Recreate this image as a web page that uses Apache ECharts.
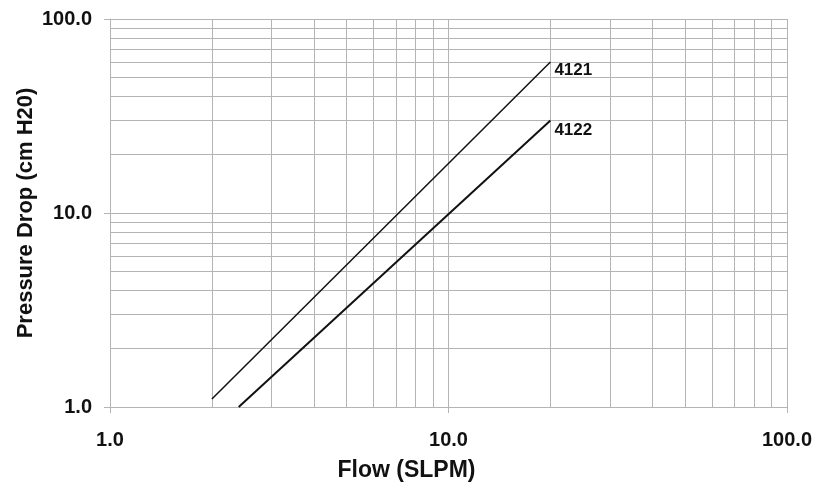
<!DOCTYPE html>
<html>
<head>
<meta charset="utf-8">
<script src="https://cdn.jsdelivr.net/npm/echarts@6/dist/echarts.min.js"></script>
<style>html,body{margin:0;padding:0;background:#fff;}#c{width:822px;height:489px;}</style>
</head>
<body>
<div id="c"></div>
<script>
// Data
var series4121 = [[2, 1.1], [20, 60]];
var series4122 = [[2.4, 1.0], [20, 30]];
var seriesNames = ['4121', '4122'];
var xGridValues = [2, 3, 4, 5, 6, 7, 8, 9, 10, 20, 30, 40, 50, 60, 70, 80, 90, 100];
var yGridValues = [2, 3, 4, 5, 6, 7, 8, 9, 10, 20, 30, 40, 50, 60, 70, 80, 90, 100];

var chart = echarts.init(document.getElementById('c'), null, {renderer: 'canvas'});
var gridColor = '#b4b4b4';
var font = 'Liberation Sans, Arial, sans-serif';
var gridLines = xGridValues.map(function (v) { return {xAxis: v}; })
  .concat(yGridValues.map(function (v) { return {yAxis: v}; }));

function endLabel(name, dy) {
  return {show: true, formatter: name, distance: 4, offset: [0, dy],
    fontFamily: font, fontWeight: 'bold', fontSize: 17, color: '#111'};
}

chart.setOption({
  animation: false,
  grid: {left: 110, right: 35, top: 19, bottom: 82},
  xAxis: {
    type: 'log', logBase: 10, min: 1, max: 100,
    name: 'Flow (SLPM)', nameLocation: 'middle', nameGap: 52, nameMoveOverlap: false,
    nameTextStyle: {fontFamily: font, fontWeight: 'bold', fontSize: 23, color: '#111', padding: [0, 84, 0, 0]},
    axisLine: {lineStyle: {color: gridColor, width: 1}},
    axisTick: {show: true, length: 6, lineStyle: {color: gridColor}},
    splitLine: {show: false},
    axisLabel: {formatter: function (v) { return v.toFixed(1); }, margin: 23,
      fontFamily: font, fontWeight: 'bold', fontSize: 20, color: '#111'}
  },
  yAxis: {
    type: 'log', logBase: 10, min: 1, max: 100,
    name: 'Pressure Drop (cm H20)', nameLocation: 'middle', nameGap: 73, nameRotate: 90, nameMoveOverlap: false,
    nameTextStyle: {fontFamily: font, fontWeight: 'bold', fontSize: 22, color: '#111'},
    axisLine: {lineStyle: {color: gridColor, width: 1}},
    axisTick: {show: true, length: 6, lineStyle: {color: gridColor}},
    splitLine: {show: false},
    axisLabel: {formatter: function (v) { return v.toFixed(1); }, margin: 18,
      fontFamily: font, fontWeight: 'bold', fontSize: 20, color: '#111'}
  },
  series: [
    {
      type: 'line', data: [], silent: true,
      markLine: {silent: true, symbol: 'none', label: {show: false},
        lineStyle: {color: gridColor, width: 1, type: 'solid'}, data: gridLines, animation: false}
    },
    {
      name: seriesNames[0], type: 'line', data: series4121,
      symbol: 'none', lineStyle: {color: '#111', width: 1.5}, z: 5,
      endLabel: endLabel(seriesNames[0], 8)
    },
    {
      name: seriesNames[1], type: 'line', data: series4122,
      symbol: 'none', lineStyle: {color: '#111', width: 2}, z: 5,
      endLabel: endLabel(seriesNames[1], 10)
    }
  ]
});
</script>
</body>
</html>
